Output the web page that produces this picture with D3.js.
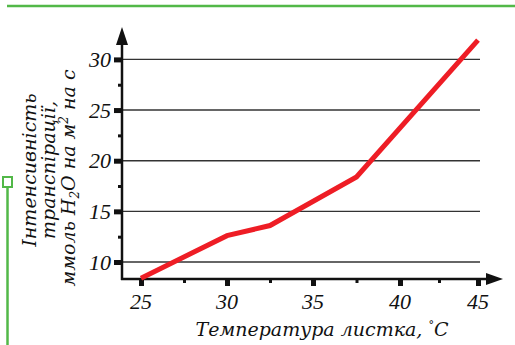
<!DOCTYPE html>
<html>
<head>
<meta charset="utf-8">
<script src="https://cdn.jsdelivr.net/npm/d3@7"></script>
<style>
  body { margin: 0; background: #fff; }
</style>
</head>
<body>
<div id="chart"></div>
<script>
// transpiration vs leaf temperature
var temps = [25, 30, 32.5, 37.5, 45];
var rates = [8.4, 12.6, 13.6, 18.4, 31.9];

var xTicks = [25, 30, 35, 40, 45];
var xMinor = [27.5, 32.5, 37.5, 42.5];
var yTicks = [10, 15, 20, 25, 30];
var yMinor = [12.5, 17.5, 22.5, 27.5];

var svgWidth = 515, svgHeight = 345;
var axisX = 122, axisY = 279;
var serif = "'DejaVu Serif', serif";
var numFont = "'Liberation Serif', serif";

var svg = d3.select("#chart").append("svg")
    .attr("width", svgWidth)
    .attr("height", svgHeight);

// green page frame
var green = "#52b848";
svg.append("line")
    .attr("x1", 7).attr("x2", svgWidth).attr("y1", 6).attr("y2", 6)
    .attr("stroke", green).attr("stroke-width", 2.5);
svg.append("line")
    .attr("x1", 7.5).attr("x2", 7.5).attr("y1", 187).attr("y2", svgHeight)
    .attr("stroke", green).attr("stroke-width", 2.5);
svg.append("rect")
    .attr("x", 3).attr("y", 177).attr("width", 9).attr("height", 10)
    .attr("fill", "#fff").attr("stroke", green).attr("stroke-width", 2);

// scales
var xScale = d3.scaleLinear()
    .domain(xTicks)
    .range([141, 227, 313, 400, 478]);

var yScale = d3.scaleLinear()
    .domain([10, 30])
    .range([262, 59.4]);

// gridlines
svg.append("g").selectAll("line")
    .data(yTicks)
    .enter()
    .append("line")
    .attr("x1", axisX).attr("x2", 480)
    .attr("y1", d => yScale(d)).attr("y2", d => yScale(d))
    .attr("stroke", "#333").attr("stroke-width", 1.4);

// tick marks from d3 axes (labels drawn separately below)
function tickMarks(axis, transform, width) {
  var g = svg.append("g").attr("transform", transform).call(axis.tickFormat(""));
  g.select(".domain").remove();
  g.selectAll("line").attr("stroke", "#111").attr("stroke-width", width);
}
tickMarks(d3.axisLeft(yScale).tickValues(yTicks).tickSize(8), `translate(${axisX},0)`, 5);
tickMarks(d3.axisLeft(yScale).tickValues(yMinor).tickSize(4), `translate(${axisX},0)`, 3);
tickMarks(d3.axisBottom(xScale).tickValues(xTicks).tickSize(7), `translate(0,${axisY})`, 5);
tickMarks(d3.axisBottom(xScale).tickValues(xMinor).tickSize(4), `translate(0,${axisY})`, 3);

// tick labels
svg.append("g").selectAll("text")
    .data(yTicks)
    .enter()
    .append("text")
    .attr("x", axisX - 11)
    .attr("y", d => yScale(d))
    .attr("dy", "0.35em")
    .attr("text-anchor", "end")
    .style("font-family", numFont).style("font-style", "italic")
    .style("font-size", "22px").attr("fill", "#111")
    .text(d => d);

svg.append("g").selectAll("text")
    .data(xTicks)
    .enter()
    .append("text")
    .attr("x", d => xScale(d))
    .attr("y", 309)
    .attr("text-anchor", "middle")
    .style("font-family", numFont).style("font-style", "italic")
    .style("font-size", "22px").attr("fill", "#111")
    .text(d => d);

// axis lines with arrows
svg.append("line")
    .attr("x1", axisX).attr("x2", axisX).attr("y1", axisY + 1).attr("y2", 40)
    .attr("stroke", "#111").attr("stroke-width", 2.5);
svg.append("line")
    .attr("x1", axisX - 1).attr("x2", 490).attr("y1", axisY).attr("y2", axisY)
    .attr("stroke", "#111").attr("stroke-width", 2.5);
svg.append("path")
    .attr("d", `M${axisX},27 L${axisX + 6},45 L${axisX - 6},45 Z`)
    .attr("fill", "#111");
svg.append("path")
    .attr("d", `M503,${axisY} L486,${axisY - 6} L486,${axisY + 6} Z`)
    .attr("fill", "#111");

// red data line
var line = d3.line()
    .x((d, i) => xScale(temps[i]))
    .y(d => yScale(d));

svg.append("path")
    .datum(rates)
    .attr("d", line)
    .attr("fill", "none")
    .attr("stroke", "#ee1d25")
    .attr("stroke-width", 5);

// axis titles
var xTitle = svg.append("text")
    .attr("x", 322).attr("y", 336)
    .attr("text-anchor", "middle")
    .style("font-family", serif).style("font-style", "italic")
    .style("font-size", "19px").attr("fill", "#111");
xTitle.append("tspan").text("Температура листка, ");
xTitle.append("tspan").attr("dy", "-7").style("font-size", "11px").text("°");
xTitle.append("tspan").attr("dy", "7").text("С");

var yTitle = svg.append("text")
    .attr("transform", "translate(0,170) rotate(-90)")
    .attr("text-anchor", "middle")
    .style("font-family", serif).style("font-style", "italic")
    .style("font-size", "19px").attr("fill", "#111");
yTitle.append("tspan").attr("x", 0).attr("y", 36).text("Інтенсивність");
yTitle.append("tspan").attr("x", 0).attr("y", 55).text("транспірації,");

var l3 = svg.append("text")
    .attr("transform", "translate(0,178) rotate(-90)")
    .attr("text-anchor", "middle")
    .attr("y", 75)
    .style("font-family", serif).style("font-style", "italic")
    .style("font-size", "19px").attr("fill", "#111");
l3.append("tspan").text("ммоль H");
l3.append("tspan").attr("dy", "4").style("font-size", "12px").text("2");
l3.append("tspan").attr("dy", "-4").text("O на м");
l3.append("tspan").attr("dy", "-7").style("font-size", "12px").text("2");
l3.append("tspan").attr("dy", "7").text(" на с");
</script>
</body>
</html>
